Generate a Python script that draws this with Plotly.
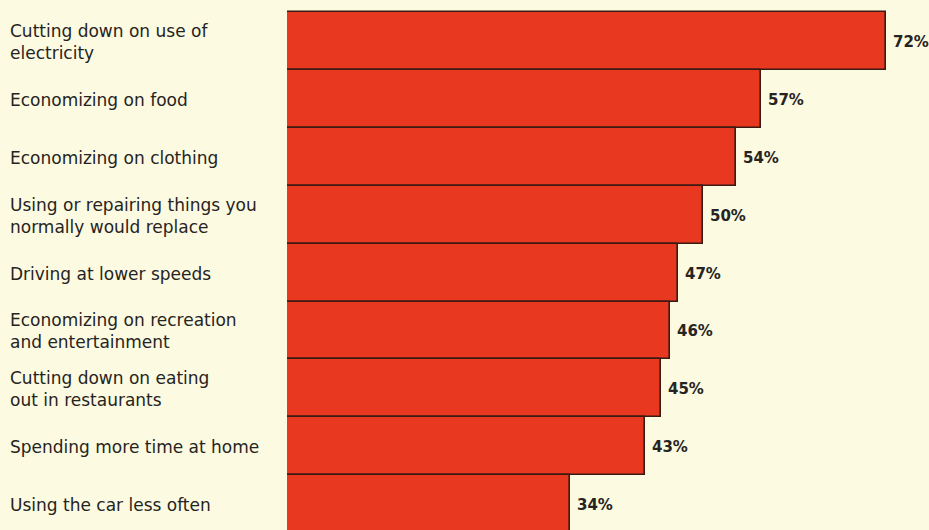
import plotly.graph_objects as go

# Share of respondents reporting each cost-cutting measure
measures = [
    "Cutting down on use of<br>electricity",
    "Economizing on food",
    "Economizing on clothing",
    "Using or repairing things you<br>normally would replace",
    "Driving at lower speeds",
    "Economizing on recreation<br>and entertainment",
    "Cutting down on eating<br>out in restaurants",
    "Spending more time at home",
    "Using the car less often",
]
percent = [72, 57, 54, 50, 47, 46, 45, 43, 34]

BG = "#FCFAE1"
BAR = "#E8381F"
EDGE = "#3A1A12"
INK = "#262422"

positions = list(range(len(measures)))

fig = go.Figure(
    go.Bar(
        x=percent,
        y=positions,
        orientation="h",
        width=1.0,
        marker=dict(color=BAR, line=dict(color=EDGE, width=1.6)),
        hoverinfo="skip",
    )
)

annotations = []
for pos, label, val in zip(positions, measures, percent):
    annotations.append(dict(
        x=0, xref="paper", xshift=-279, y=pos, yref="y", yshift=-1,
        text=label, showarrow=False, xanchor="left", align="left",
        font=dict(family="DejaVu Sans", size=17, color=INK),
    ))
    annotations.append(dict(
        x=val, xref="x", xshift=5, y=pos, yref="y", yshift=-1,
        text=f"{val}%", showarrow=False, xanchor="left",
        font=dict(family="DejaVu Sans", size=15, color=INK, weight="bold"),
    ))

pitch = 57.9
plot_h = 520
top = -0.5 - 2 / pitch

fig.update_layout(
    width=929, height=530,
    margin=dict(l=287, r=0, t=10, b=0),
    paper_bgcolor=BG, plot_bgcolor=BG,
    showlegend=False,
    bargap=0,
    xaxis=dict(range=[0, 642 / 8.32], visible=False, fixedrange=True),
    yaxis=dict(range=[top + plot_h / pitch, top], visible=False, fixedrange=True),
    annotations=annotations,
)

fig.write_html("out.html")
